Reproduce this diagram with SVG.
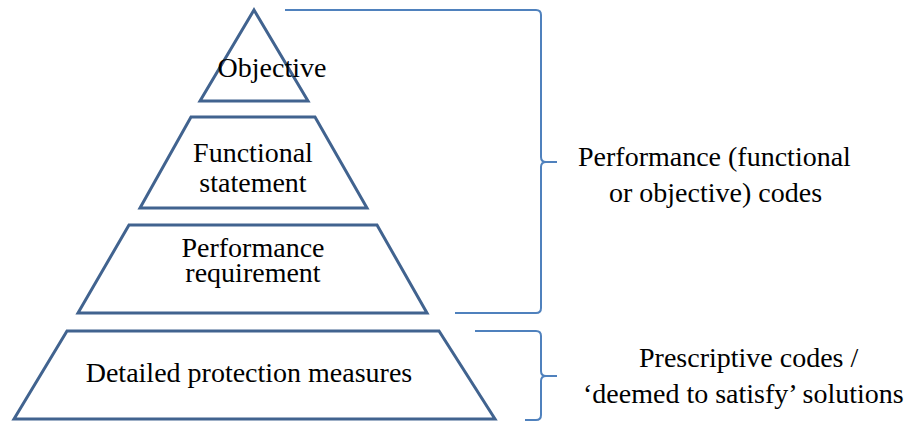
<svg xmlns="http://www.w3.org/2000/svg" width="924" height="424" viewBox="0 0 924 424">
<style>
.shape{fill:#ffffff;stroke:#41638f;stroke-width:3;stroke-linejoin:miter}
.brace{fill:none;stroke:#4f81bd;stroke-width:2}
.m{text-anchor:middle}
</style>
<rect width="924" height="424" fill="#ffffff"/>
<g font-family="Liberation Serif, Times New Roman, serif" font-size="28" fill="#000000">
<g id="detailed">
<polygon class="shape" points="67,331 439,331 495,419 14,419"/>
<text class="m" x="249" y="382">Detailed protection measures</text>
</g>
<g id="performance-requirement">
<polygon class="shape" points="129,225 377,225 427,313 78,313"/>
<text class="m" x="253" y="257">Performance</text>
<text class="m" x="253" y="282">requirement</text>
</g>
<g id="functional-statement">
<polygon class="shape" points="191,117 315,117 367,208 140,208"/>
<text class="m" x="253" y="162">Functional</text>
<text class="m" x="253" y="192">statement</text>
</g>
<g id="objective">
<polygon class="shape" points="254,10 308,101 200,101"/>
<text class="m" x="272" y="77">Objective</text>
</g>
<g id="connectors">
<path class="brace" d="M285,10 H536 Q541,10 541,15 V157 Q541,162 546,162 H557 M546,162 Q541,162 541,167 V308 Q541,313 536,313 H455"/>
<path class="brace" d="M475,331 H536 Q541,331 541,336 V371 Q541,376 546,376 H557 M546,376 Q541,376 541,381 V415 Q541,420 536,420 H525"/>
</g>
<g id="performance-codes">
<text x="578" y="166">Performance (functional</text>
<text x="609" y="202">or objective) codes</text>
</g>
<g id="prescriptive-codes">
<text x="639" y="367">Prescriptive codes /</text>
<text x="583" y="403">‘deemed to satisfy’ solutions</text>
</g>
</g>
</svg>
